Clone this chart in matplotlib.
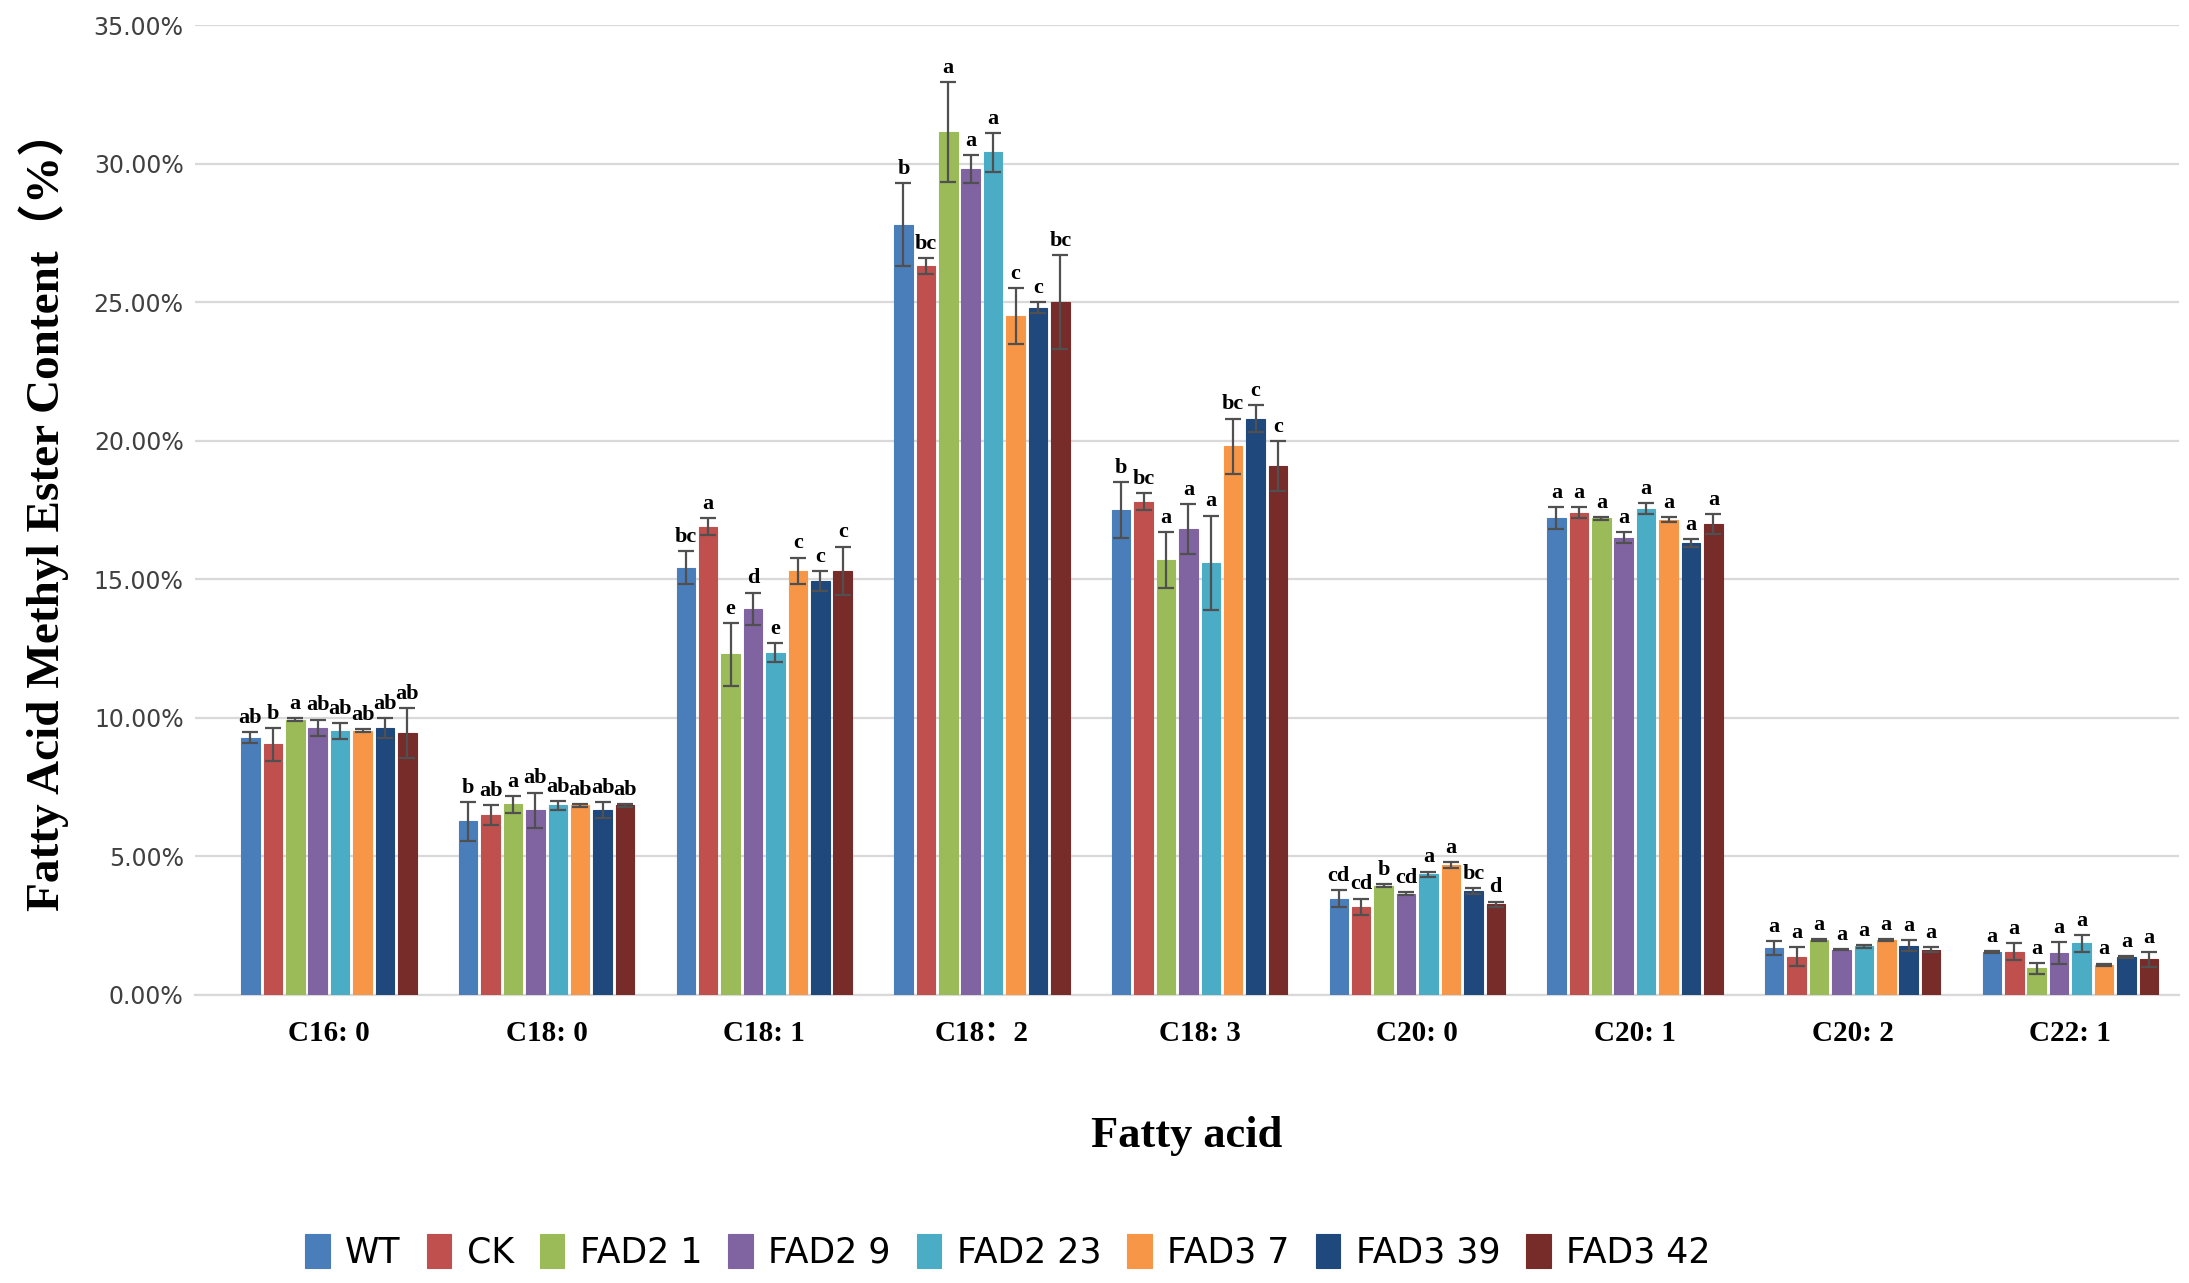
import numpy as np
import matplotlib.pyplot as plt
from matplotlib.ticker import FuncFormatter

fatty_acids = ['C16: 0', 'C18: 0', 'C18: 1', 'C18：2', 'C18: 3', 'C20: 0', 'C20: 1', 'C20: 2', 'C22: 1']
lines = ['WT', 'CK', 'FAD2 1', 'FAD2 9', 'FAD2 23', 'FAD3 7', 'FAD3 39', 'FAD3 42']
colors = ['#4A7EBB', '#C0504D', '#9BBB59', '#8064A2', '#4BACC6', '#F79646', '#1F497D', '#772C2A']

# mean content (%) per line, one list per fatty acid
c16_0 = [9.28, 9.04, 9.94, 9.64, 9.52, 9.54, 9.64, 9.46]
c18_0 = [6.27, 6.48, 6.88, 6.66, 6.84, 6.84, 6.67, 6.84]
c18_1 = [15.42, 16.9, 12.29, 13.94, 12.35, 15.3, 14.94, 15.3]
c18_2 = [27.8, 26.3, 31.15, 29.8, 30.4, 24.5, 24.8, 25.0]
c18_3 = [17.5, 17.8, 15.7, 16.8, 15.6, 19.8, 20.8, 19.1]
c20_0 = [3.47, 3.18, 3.95, 3.66, 4.35, 4.68, 3.76, 3.27]
c20_1 = [17.2, 17.4, 17.2, 16.5, 17.55, 17.15, 16.3, 17.0]
c20_2 = [1.68, 1.38, 1.98, 1.64, 1.76, 1.98, 1.77, 1.64]
c22_1 = [1.56, 1.56, 0.96, 1.5, 1.86, 1.08, 1.38, 1.28]

# standard errors
c16_0_err = [0.2, 0.6, 0.05, 0.3, 0.3, 0.05, 0.36, 0.9]
c18_0_err = [0.7, 0.36, 0.3, 0.64, 0.16, 0.05, 0.29, 0.04]
c18_1_err = [0.6, 0.3, 1.14, 0.58, 0.35, 0.48, 0.36, 0.88]
c18_2_err = [1.5, 0.3, 1.8, 0.5, 0.7, 1.0, 0.2, 1.7]
c18_3_err = [1.0, 0.3, 1.0, 0.9, 1.7, 1.0, 0.5, 0.9]
c20_0_err = [0.3, 0.3, 0.05, 0.05, 0.1, 0.1, 0.1, 0.1]
c20_1_err = [0.4, 0.2, 0.05, 0.2, 0.2, 0.1, 0.15, 0.35]
c20_2_err = [0.25, 0.35, 0.05, 0.03, 0.05, 0.05, 0.2, 0.1]
c22_1_err = [0.03, 0.3, 0.2, 0.4, 0.3, 0.05, 0.03, 0.28]

# significance letters
c16_0_sig = ['ab', 'b', 'a', 'ab', 'ab', 'ab', 'ab', 'ab']
c18_0_sig = ['b', 'ab', 'a', 'ab', 'ab', 'ab', 'ab', 'ab']
c18_1_sig = ['bc', 'a', 'e', 'd', 'e', 'c', 'c', 'c']
c18_2_sig = ['b', 'bc', 'a', 'a', 'a', 'c', 'c', 'bc']
c18_3_sig = ['b', 'bc', 'a', 'a', 'a', 'bc', 'c', 'c']
c20_0_sig = ['cd', 'cd', 'b', 'cd', 'a', 'a', 'bc', 'd']
c20_1_sig = ['a'] * 8
c20_2_sig = ['a'] * 8
c22_1_sig = ['a'] * 8

values = np.array([c16_0, c18_0, c18_1, c18_2, c18_3, c20_0, c20_1, c20_2, c22_1])
errors = np.array([c16_0_err, c18_0_err, c18_1_err, c18_2_err, c18_3_err,
                   c20_0_err, c20_1_err, c20_2_err, c22_1_err])
letters = [c16_0_sig, c18_0_sig, c18_1_sig, c18_2_sig, c18_3_sig,
           c20_0_sig, c20_1_sig, c20_2_sig, c22_1_sig]

fig = plt.figure(figsize=(21.89, 12.83), dpi=100)
ax = fig.add_axes([0.089, 0.2245, 0.9065, 0.756])

x = np.arange(len(fatty_acids))
pitch = 0.103
width = 0.085
for j, (name, col) in enumerate(zip(lines, colors)):
    pos = x + (j - 3.5) * pitch
    ax.bar(pos, values[:, j], width, color=col, label=name, zorder=3,
           edgecolor=col, linewidth=0.8)
    ax.errorbar(pos, values[:, j], yerr=errors[:, j], fmt='none', ecolor='#505050',
                elinewidth=1.6, capsize=6, capthick=1.6, zorder=4)
    for i in range(len(fatty_acids)):
        ax.annotate(letters[i][j], (pos[i], values[i, j] + errors[i, j]),
                    xytext=(0, 3), textcoords='offset points', ha='center', va='bottom',
                    fontsize=16, fontweight='bold', family='Liberation Serif', zorder=5)

ax.set_ylim(0, 35)
ax.set_xlim(-0.616, 8.5)
ax.set_yticks(np.arange(0, 36, 5))
ax.yaxis.set_major_formatter(FuncFormatter(lambda v, p: f'{v:.2f}%'))
ax.grid(axis='y', color='#D9D9D9', linewidth=1.6, zorder=0)
ax.set_axisbelow(True)
for s in ['top', 'right', 'left']:
    ax.spines[s].set_visible(False)
ax.spines['bottom'].set_color('#D9D9D9')
ax.spines['bottom'].set_linewidth(1.6)
ax.tick_params(axis='both', length=0)
ax.tick_params(axis='y', labelsize=17, labelcolor='#404040', pad=8)

ax.set_xticks(x)
ax.set_xticklabels(fatty_acids, fontsize=21, fontweight='bold',
                   family=['Liberation Serif', 'Noto Sans CJK SC'])
ax.tick_params(axis='x', pad=18)

ax.set_ylabel('Fatty Acid Methyl Ester Content（%）', fontsize=34, fontweight='bold',
              family=['Liberation Serif', 'Noto Sans CJK SC'], labelpad=18)
ax.set_xlabel('Fatty acid', fontsize=32, fontweight='bold', family='Liberation Serif',
              labelpad=50)

fig.legend(loc='center', bbox_to_anchor=(0.4605, 0.024), ncol=8, frameon=False,
           fontsize=25, handlelength=0.7, handleheight=1.1, handletextpad=0.45,
           columnspacing=0.75)

fig.savefig('out.png', dpi=100)
